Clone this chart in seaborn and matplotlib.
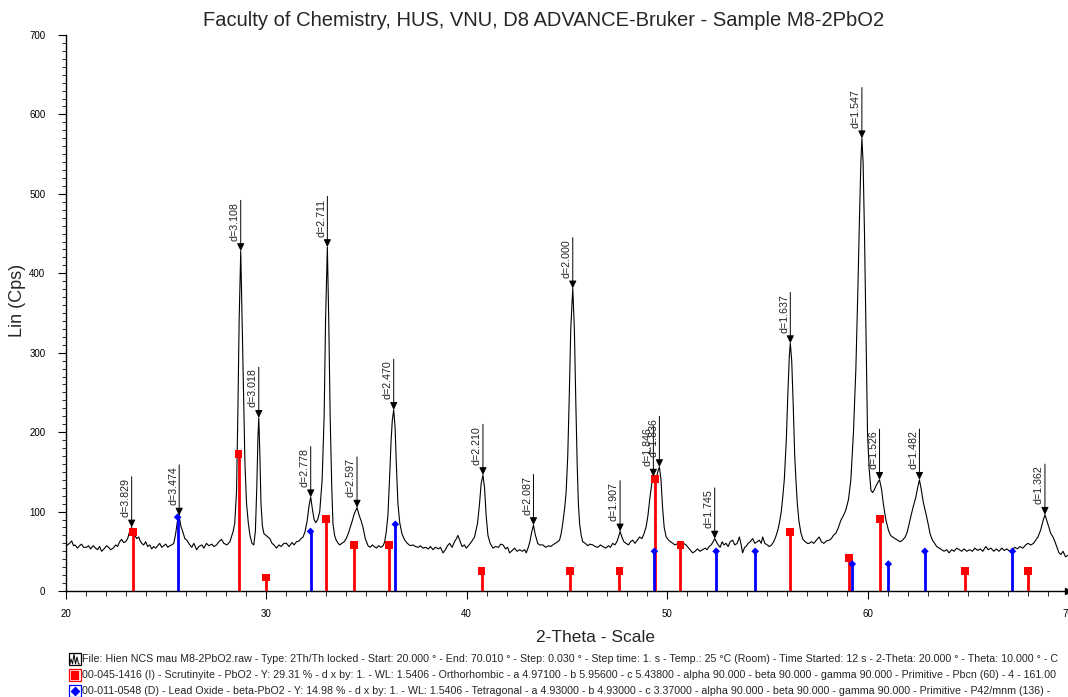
import matplotlib
matplotlib.use("Agg")
import matplotlib.pyplot as plt
import seaborn as sns
import pandas as pd
from matplotlib.ticker import MultipleLocator
from matplotlib.patches import Rectangle
from matplotlib.lines import Line2D

# ---------------- data ----------------
two_theta = [
    20.00, 20.10, 20.20, 20.31, 20.40, 20.47, 20.60, 20.70, 20.80, 20.90, 21.05, 21.15, 21.25, 21.38, 21.50,
    21.60, 21.70, 21.80, 21.92, 22.05, 22.15, 22.25, 22.38, 22.50, 22.60, 22.70, 22.80, 22.90, 23.00, 23.10,
    23.20, 23.30, 23.38, 23.46, 23.55, 23.65, 23.71, 23.80, 23.90, 24.00, 24.10, 24.20, 24.30, 24.40, 24.50,
    24.60, 24.70, 24.80, 24.90, 25.00, 25.10, 25.20, 25.30, 25.40, 25.50, 25.58, 25.67, 25.75, 25.87, 25.95,
    26.05, 26.20, 26.30, 26.40, 26.54, 26.65, 26.80, 26.90, 27.03, 27.15, 27.30, 27.40, 27.53, 27.65, 27.78,
    27.90, 28.05, 28.20, 28.30, 28.36, 28.44, 28.53, 28.60, 28.66, 28.74, 28.81, 28.88, 28.95, 29.03, 29.12,
    29.20, 29.30, 29.39, 29.47, 29.54, 29.60, 29.64, 29.69, 29.75, 29.82, 29.90, 30.00, 30.10, 30.19, 30.30,
    30.40, 30.52, 30.65, 30.75, 30.90, 31.02, 31.15, 31.30, 31.40, 31.52, 31.65, 31.75, 31.85, 31.95, 32.05,
    32.15, 32.23, 32.32, 32.40, 32.48, 32.58, 32.68, 32.80, 32.90, 32.97, 33.06, 33.13, 33.20, 33.28, 33.34,
    33.42, 33.50, 33.60, 33.68, 33.78, 33.90, 34.00, 34.10, 34.20, 34.30, 34.40, 34.54, 34.65, 34.75, 34.84,
    34.95, 35.09, 35.20, 35.30, 35.40, 35.51, 35.62, 35.73, 35.84, 35.92, 36.00, 36.08, 36.16, 36.24, 36.30,
    36.37, 36.44, 36.50, 36.58, 36.67, 36.78, 36.92, 37.05, 37.20, 37.33, 37.45, 37.60, 37.70, 37.83, 37.95,
    38.10, 38.20, 38.33, 38.45, 38.60, 38.70, 38.83, 38.95, 39.05, 39.16, 39.28, 39.40, 39.50, 39.57, 39.66,
    39.78, 39.90, 39.99, 40.10, 40.25, 40.40, 40.55, 40.65, 40.73, 40.82, 40.90, 40.98, 41.07, 41.18, 41.32,
    41.45, 41.60, 41.70, 41.82, 41.95, 42.05, 42.15, 42.28, 42.40, 42.52, 42.65, 42.78, 42.90, 42.98, 43.08,
    43.16, 43.25, 43.34, 43.42, 43.55, 43.65, 43.81, 43.95, 44.10, 44.20, 44.30, 44.42, 44.55, 44.64, 44.72,
    44.80, 44.90, 44.97, 45.05, 45.13, 45.20, 45.30, 45.38, 45.45, 45.52, 45.58, 45.64, 45.72, 45.80, 45.92,
    46.05, 46.15, 46.30, 46.42, 46.55, 46.68, 46.80, 46.95, 47.08, 47.18, 47.29, 47.40, 47.50, 47.58, 47.66,
    47.75, 47.85, 47.96, 48.08, 48.18, 48.29, 48.40, 48.52, 48.63, 48.75, 48.85, 48.96, 49.05, 49.15, 49.24,
    49.32, 49.40, 49.47, 49.54, 49.62, 49.70, 49.78, 49.86, 49.96, 50.08, 50.18, 50.29, 50.40, 50.55, 50.70,
    50.82, 50.95, 51.05, 51.15, 51.28, 51.40, 51.52, 51.65, 51.78, 51.90, 52.00, 52.10, 52.20, 52.30, 52.38,
    52.46, 52.55, 52.65, 52.75, 52.84, 52.94, 53.05, 53.15, 53.27, 53.38, 53.50, 53.61, 53.70, 53.77, 53.87,
    53.94, 54.05, 54.15, 54.27, 54.38, 54.50, 54.60, 54.70, 54.77, 54.88, 55.00, 55.10, 55.22, 55.32, 55.42,
    55.52, 55.60, 55.70, 55.78, 55.85, 55.95, 56.03, 56.10, 56.15, 56.22, 56.30, 56.37, 56.43, 56.50, 56.58,
    56.68, 56.78, 56.90, 57.00, 57.09, 57.20, 57.32, 57.45, 57.59, 57.70, 57.82, 57.95, 58.09, 58.20, 58.30,
    58.43, 58.55, 58.67, 58.80, 58.92, 59.05, 59.17, 59.30, 59.42, 59.52, 59.60, 59.67, 59.72, 59.78, 59.85,
    59.92, 60.00, 60.08, 60.17, 60.25, 60.33, 60.42, 60.52, 60.60, 60.70, 60.80, 60.92, 61.05, 61.15, 61.25,
    61.38, 61.50, 61.62, 61.75, 61.88, 61.98, 62.08, 62.20, 62.30, 62.41, 62.50, 62.59, 62.68, 62.78, 62.91,
    63.02, 63.12, 63.24, 63.35, 63.45, 63.58, 63.70, 63.82, 63.95, 64.07, 64.20, 64.32, 64.45, 64.57, 64.70,
    64.82, 64.95, 65.10, 65.23, 65.35, 65.50, 65.62, 65.75, 65.90, 66.02, 66.15, 66.30, 66.42, 66.56, 66.70,
    66.82, 66.95, 67.10, 67.23, 67.35, 67.48, 67.60, 67.75, 67.89, 68.00, 68.15, 68.28, 68.39, 68.50, 68.64,
    68.75, 68.85, 68.95, 69.05, 69.13, 69.25, 69.35, 69.45, 69.55, 69.65, 69.75, 69.88, 70.00,
]
counts = [
    55, 58, 60, 63, 57, 58, 54, 57, 59, 55, 55, 57, 53, 57, 54,
    52, 56, 50, 53, 57, 55, 52, 54, 58, 56, 62, 65, 61, 62, 66,
    75, 80, 72, 70, 66, 68, 64, 60, 58, 62, 56, 58, 53, 56, 54,
    57, 60, 55, 57, 59, 55, 57, 58, 60, 73, 88, 95, 82, 73, 66,
    64, 58, 55, 60, 52, 56, 58, 54, 60, 57, 59, 56, 58, 62, 65,
    60, 58, 62, 70, 75, 85, 125, 230, 340, 428, 340, 250, 160, 110, 85,
    70, 60, 58, 75, 130, 195, 218, 175, 110, 82, 72, 70, 68, 66, 60,
    58, 54, 58, 56, 60, 60, 56, 61, 58, 62, 63, 66, 68, 75, 88,
    108, 118, 102, 90, 86, 90, 100, 140, 220, 340, 433, 340, 220, 130, 85,
    70, 64, 60, 58, 60, 62, 66, 72, 80, 88, 97, 105, 95, 88, 80,
    66, 57, 55, 58, 56, 54, 57, 55, 57, 62, 75, 95, 140, 190, 215,
    228, 205, 160, 110, 86, 72, 64, 60, 57, 58, 56, 55, 57, 54, 55,
    53, 56, 52, 55, 53, 55, 48, 52, 57, 60, 55, 62, 66, 70, 64,
    56, 58, 54, 57, 62, 68, 85, 110, 135, 146, 130, 95, 70, 60, 54,
    56, 55, 59, 58, 53, 55, 48, 51, 54, 50, 52, 50, 52, 48, 55,
    62, 74, 83, 72, 60, 58, 58, 55, 57, 56, 58, 60, 62, 64, 72,
    85, 105, 125, 170, 250, 330, 381, 330, 240, 160, 110, 85, 70, 62, 60,
    57, 59, 58, 56, 55, 58, 56, 54, 57, 55, 60, 58, 62, 68, 75,
    68, 62, 60, 58, 62, 64, 60, 64, 68, 66, 72, 81, 95, 118, 135,
    144, 140, 142, 150, 156, 140, 105, 80, 68, 64, 62, 60, 58, 60, 56,
    60, 58, 55, 52, 48, 50, 53, 50, 52, 54, 52, 56, 58, 62, 66,
    62, 58, 55, 62, 58, 60, 56, 62, 64, 58, 60, 68, 58, 48, 55,
    56, 60, 62, 66, 60, 62, 64, 60, 68, 60, 58, 56, 58, 62, 68,
    76, 85, 100, 120, 140, 190, 250, 295, 312, 290, 230, 170, 140, 110, 88,
    73, 65, 62, 60, 60, 62, 60, 64, 68, 62, 60, 63, 64, 66, 70,
    73, 80, 89, 95, 102, 115, 140, 200, 280, 380, 470, 540, 570, 540, 450,
    330, 200, 155, 127, 124, 127, 132, 137, 140, 128, 108, 89, 76, 70, 68,
    66, 64, 62, 64, 68, 74, 85, 98, 108, 118, 130, 140, 128, 112, 98,
    85, 72, 64, 60, 56, 54, 52, 50, 52, 48, 52, 50, 54, 52, 50,
    53, 50, 52, 50, 54, 51, 53, 50, 56, 52, 54, 50, 53, 50, 54,
    51, 53, 50, 52, 55, 53, 56, 54, 58, 60, 58, 60, 64, 68, 77,
    88, 96, 88, 80, 73, 68, 62, 55, 48, 46, 50, 43, 45,
]

# d-spacing labels of the marked peaks
peak_labels = ["d=3.829", "d=3.474", "d=3.108", "d=3.018", "d=2.778", "d=2.711", "d=2.597",
               "d=2.470", "d=2.210", "d=2.087", "d=2.000", "d=1.907", "d=1.846", "d=1.836",
               "d=1.745", "d=1.637", "d=1.547", "d=1.526", "d=1.482", "d=1.362"]
peak_pos = [23.30, 25.67, 28.74, 29.64, 32.23, 33.06, 34.54, 36.37, 40.82, 43.34, 45.30,
            47.66, 49.32, 49.62, 52.38, 56.15, 59.72, 60.60, 62.59, 68.85]
peak_int = [80, 95, 428, 218, 118, 433, 105, 228, 146, 83, 381, 75, 144, 156, 66, 312, 570,
            140, 140, 96]

# reference pattern 00-045-1416 Scrutinyite PbO2 (red)
red_pos = [23.35, 28.63, 30.02, 32.98, 34.37, 36.15, 40.75, 45.15, 47.63, 49.42, 50.67,
           56.13, 59.09, 60.63, 64.87, 68.02]
red_int = [74, 173, 17, 91, 58, 58, 25, 25, 25, 141, 58, 74, 42, 91, 25, 25]

# reference pattern 00-011-0548 beta-PbO2 (blue)
blue_pos = [25.59, 32.22, 36.45, 49.37, 52.45, 54.40, 59.24, 61.04, 62.86, 67.23]
blue_int = [93, 75, 84, 50, 50, 50, 34, 34, 50, 50]

title = "Faculty of Chemistry, HUS, VNU, D8 ADVANCE-Bruker - Sample M8-2PbO2"
xlabel = "2-Theta - Scale"
ylabel = "Lin (Cps)"
legend_lines = [
    "File: Hien NCS mau M8-2PbO2.raw - Type: 2Th/Th locked - Start: 20.000 \u00b0 - End: 70.010 \u00b0 - Step: 0.030 \u00b0 - Step time: 1. s - Temp.: 25 \u00b0C (Room) - Time Started: 12 s - 2-Theta: 20.000 \u00b0 - Theta: 10.000 \u00b0 - C",
    "00-045-1416 (I) - Scrutinyite - PbO2 - Y: 29.31 % - d x by: 1. - WL: 1.5406 - Orthorhombic - a 4.97100 - b 5.95600 - c 5.43800 - alpha 90.000 - beta 90.000 - gamma 90.000 - Primitive - Pbcn (60) - 4 - 161.00",
    "00-011-0548 (D) - Lead Oxide - beta-PbO2 - Y: 14.98 % - d x by: 1. - WL: 1.5406 - Tetragonal - a 4.93000 - b 4.93000 - c 3.37000 - alpha 90.000 - beta 90.000 - gamma 90.000 - Primitive - P42/mnm (136) -",
]

# ---------------- plot ----------------
sns.set_style("white")
plt.rcParams["font.family"] = ["Liberation Sans", "DejaVu Sans"]

W, H = 1068, 697
fig = plt.figure(figsize=(W / 100, H / 100), dpi=100)
ax = fig.add_axes([65.5 / W, 106 / H, 1 - 65.5 / W, 556 / H])

scan = pd.DataFrame({"two_theta": two_theta, "counts": counts})
sns.lineplot(data=scan, x="two_theta", y="counts", color="black", lw=0.8,
             estimator=None, sort=False, ax=ax, zorder=3)

ax.vlines(red_pos, 0, red_int, color="#ff0000", lw=2.0, zorder=4)
ax.vlines(blue_pos, 0, blue_int, color="#0000ff", lw=2.0, zorder=4)
sns.scatterplot(x=red_pos, y=red_int, marker="s", color="#ff0000", s=32, edgecolor="none",
                ax=ax, zorder=5)
sns.scatterplot(x=blue_pos, y=blue_int, marker="D", color="#0000ff", s=15, edgecolor="none",
                ax=ax, zorder=5)

for lab, px, py in zip(peak_labels, peak_pos, peak_int):
    ax.annotate("", xy=(px, py), xytext=(0, 36.5), textcoords="offset points",
                arrowprops=dict(arrowstyle="-|>,head_length=0.45,head_width=0.22",
                                color="black", lw=0.7, shrinkA=0, shrinkB=0), zorder=6)
    ax.annotate(lab, xy=(px, py), xytext=(-0.8, 7.5), textcoords="offset points",
                rotation=90, ha="right", va="bottom", fontsize=7.7, color="#222222", zorder=6)

ax.set_xlim(20, 70)
ax.set_ylim(0, 700)
ax.set_xlabel("")
ax.set_ylabel("")
ax.xaxis.set_major_locator(MultipleLocator(10))
ax.xaxis.set_minor_locator(MultipleLocator(1))
ax.yaxis.set_major_locator(MultipleLocator(100))
ax.yaxis.set_minor_locator(MultipleLocator(10))
ax.tick_params(axis="x", which="major", direction="out", length=6, width=0.8, labelsize=7,
               pad=7, bottom=True, colors="black")
ax.tick_params(axis="x", which="minor", direction="out", length=3.5, width=0.7, bottom=True)
ax.tick_params(axis="y", which="major", direction="out", length=5.5, width=0.8, labelsize=7,
               pad=9, left=True, colors="black")
ax.tick_params(axis="y", which="minor", direction="out", length=3, width=0.7, left=True)
for s in ["top", "right"]:
    ax.spines[s].set_visible(False)
for s in ["left", "bottom"]:
    ax.spines[s].set_color("black")
    ax.spines[s].set_linewidth(1.0)
ax.plot(1, 0, ">", color="black", ms=5, transform=ax.get_yaxis_transform(), clip_on=False)
ax.plot(0, 1, "^", color="black", ms=5, transform=ax.get_xaxis_transform(), clip_on=False)
ax.set_facecolor("white")

fig.text(544 / W, 1 - 20 / H, title, ha="center", va="center", fontsize=14.5)
fig.text(596 / W, 1 - 638 / H, xlabel, ha="center", va="center", fontsize=12.5)
fig.text(17 / W, 1 - 300 / H, ylabel, ha="center", va="center", rotation=90, fontsize=13)

# legend-like footer
ys = [659, 675, 691]
for txt, yc in zip(legend_lines, ys):
    fig.text(81.5 / W, 1 - yc / H, txt, ha="left", va="center", fontsize=7.7)
box_cols = ["black", "#ff0000", "#0000ff"]
for yc, c in zip(ys, box_cols):
    fig.add_artist(Rectangle((68.5 / W, 1 - (yc + 6) / H), 12 / W, 12 / H,
                             transform=fig.transFigure, fill=False, edgecolor=c, lw=0.9))
gx = [69.5, 71, 72.5, 74, 75.5, 77, 78.5, 79.5]
gy = [665, 659, 664, 654, 664, 657, 664, 664]
fig.add_artist(Line2D([v / W for v in gx], [1 - v / H for v in gy], transform=fig.transFigure,
                      color="black", lw=0.7))
fig.add_artist(Rectangle((71 / W, 1 - (675 + 4) / H), 7 / W, 8 / H, transform=fig.transFigure,
                         color="#ff0000"))
fig.add_artist(Line2D([74.5 / W], [1 - 691 / H], transform=fig.transFigure, marker="D",
                      color="#0000ff", ms=4, ls="none"))

fig.savefig("out.png", dpi=100)
